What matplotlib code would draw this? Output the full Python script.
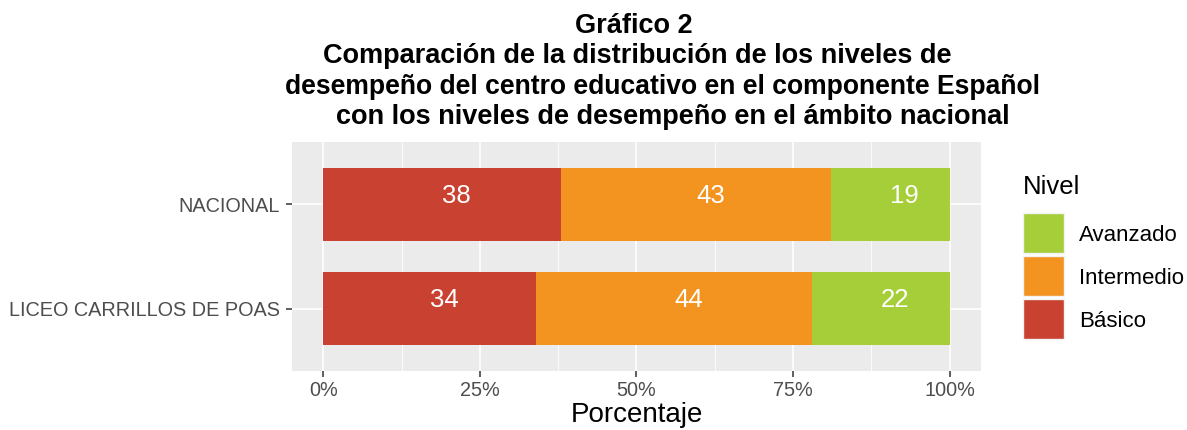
import matplotlib
matplotlib.use("Agg")
import matplotlib.pyplot as plt
from matplotlib.patches import Rectangle
from matplotlib.ticker import MultipleLocator, FuncFormatter

plt.rcParams['font.family'] = ['Liberation Sans', 'DejaVu Sans']

categories = ["LICEO CARRILLOS DE POAS", "NACIONAL"]
levels = ["Básico", "Intermedio", "Avanzado"]
basico = [34, 38]
intermedio = [44, 43]
avanzado = [22, 19]
colors = {"Básico": "#C94130", "Intermedio": "#F49420", "Avanzado": "#A6CE39"}
title_lines = ["Gráfico 2",
               "Comparación de la distribución de los niveles de",
               "desempeño del centro educativo en el componente Español",
               "con los niveles de desempeño en el ámbito nacional"]

W, H = 1187, 430
fig = plt.figure(figsize=(W/100, H/100), dpi=100)
ax = fig.add_axes([292/W, 1-371/H, (981-292)/W, (371-142)/H])
ax.set_facecolor("#EBEBEB")

ypos = list(range(1, len(categories)+1))
left = [0]*len(categories)
for name, vals in zip(levels, [basico, intermedio, avanzado]):
    ax.barh(ypos, vals, left=left, height=0.7, color=colors[name], zorder=3)
    for y, l, v in zip(ypos, left, vals):
        ax.text(l + v/2, y + 0.08, f"{v}", color="white", ha="left", va="center",
                fontsize=18.5, zorder=4)
    left = [a+b for a, b in zip(left, vals)]

ax.set_xlim(-5, 105)
ax.set_ylim(0.4, len(categories)+0.6)
ax.xaxis.set_major_locator(MultipleLocator(25))
ax.xaxis.set_minor_locator(MultipleLocator(12.5))
ax.xaxis.set_major_formatter(FuncFormatter(lambda v, p: f"{int(v)}%"))
ax.set_yticks(ypos)
ax.set_yticklabels(categories)
ax.grid(which="major", color="white", linewidth=1.2, zorder=0)
ax.grid(which="minor", axis="x", color="white", linewidth=0.6, zorder=0)
ax.set_axisbelow(True)
for s in ax.spines.values():
    s.set_visible(False)
ax.tick_params(which="major", length=4, width=1.1, color="#333333",
               labelsize=14.3, labelcolor="#4D4D4D")
ax.tick_params(axis="y", pad=4.5)
ax.tick_params(axis="x", pad=3)
ax.tick_params(which="minor", length=0)
ax.set_xlabel("Porcentaje", fontsize=20, color="black", labelpad=2)

ys = [33, 63, 94, 124]
xs = [633.5, 637.5, 662.5, 673]
sizes = [19.5, 19.5, 19.1, 19.5]
for t, x, y, s in zip(title_lines, xs, ys, sizes):
    fig.text(x/W, 1-y/H, t, ha="center", va="baseline", fontsize=s,
             fontweight="bold")

# legend (drawn manually to match ggplot key geometry)
fig.text(1023/W, 1-194/H, "Nivel", ha="left", va="baseline", fontsize=18.5)
key_top, key_h, key_pitch = 212.5, 40.5, 43
for i, name in enumerate(reversed(levels)):
    top = key_top + i*key_pitch
    fig.patches.append(Rectangle((1023/W, 1-(top+key_h)/H), 41/W, key_h/H,
                                 transform=fig.transFigure, facecolor=colors[name],
                                 edgecolor="#F2F2F2", linewidth=1))
    fig.text(1079/W, 1-(top+key_h/2)/H, name, ha="left", va="center_baseline",
             fontsize=16)

fig.savefig("out.png", dpi=100)
